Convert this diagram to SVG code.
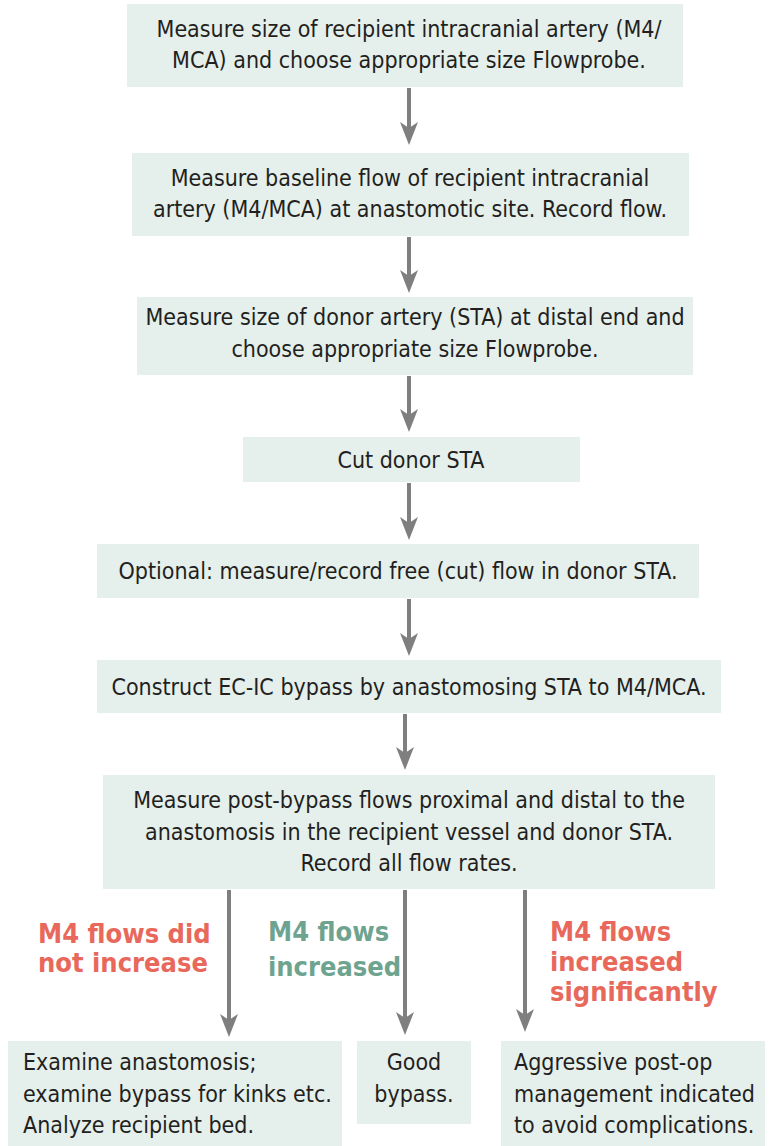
<svg xmlns="http://www.w3.org/2000/svg" width="770" height="1146" viewBox="0 0 770 1146">
<defs>
<style>
.box{fill:#e5efeb;}
.t{font-family:"Liberation Sans Narrow","DejaVu Sans Condensed",sans-serif;font-size:23px;fill:#231f20;}
.c{text-anchor:middle;}
.lab{font-family:"Liberation Sans Narrow","DejaVu Sans Condensed",sans-serif;font-size:27px;font-weight:bold;}
.red{fill:#e8695b;}
.grn{fill:#6ea48f;}
.ln{stroke:#7f7f7f;stroke-width:4;fill:none;marker-end:url(#ah);}
</style>
<marker id="ah" viewBox="0 0 23 18" refX="6" refY="9" markerWidth="23" markerHeight="18" markerUnits="userSpaceOnUse" orient="auto">
<path d="M0,0 L23,9 L0,18 L6,9 Z" fill="#7f7f7f"/>
</marker>
</defs>
<g id="connectors">
<line class="ln" x1="409" y1="88" x2="409" y2="128"/>
<line class="ln" x1="409" y1="237" x2="409" y2="276"/>
<line class="ln" x1="409" y1="376" x2="409" y2="415"/>
<line class="ln" x1="409" y1="483" x2="409" y2="523"/>
<line class="ln" x1="409" y1="599" x2="409" y2="639"/>
<line class="ln" x1="405" y1="714" x2="405" y2="753"/>
<line class="ln" x1="229" y1="890" x2="229" y2="1020"/>
<line class="ln" x1="405" y1="890" x2="405" y2="1018"/>
<line class="ln" x1="525" y1="890" x2="525" y2="1015"/>
</g>
<g id="n1"><rect class="box" x="127" y="4" width="556" height="83"/>
<text class="t c" x="409" y="37">Measure size of recipient intracranial artery (M4/</text>
<text class="t c" x="409" y="68">MCA) and choose appropriate size Flowprobe.</text></g>
<g id="n2"><rect class="box" x="132" y="153" width="557" height="83"/>
<text class="t c" x="410" y="186">Measure baseline flow of recipient intracranial</text>
<text class="t c" x="410" y="217">artery (M4/MCA) at anastomotic site. Record flow.</text></g>
<g id="n3"><rect class="box" x="137" y="297" width="556" height="78"/>
<text class="t c" x="415" y="325">Measure size of donor artery (STA) at distal end and</text>
<text class="t c" x="415" y="357">choose appropriate size Flowprobe.</text></g>
<g id="n4"><rect class="box" x="243" y="437" width="337" height="45"/>
<text class="t c" x="411" y="468">Cut donor STA</text></g>
<g id="n5"><rect class="box" x="97" y="544" width="602" height="54"/>
<text class="t c" x="398" y="579">Optional: measure/record free (cut) flow in donor STA.</text></g>
<g id="n6"><rect class="box" x="97" y="660" width="624" height="53"/>
<text class="t c" x="409" y="695">Construct EC-IC bypass by anastomosing STA to M4/MCA.</text></g>
<g id="n7"><rect class="box" x="103" y="775" width="612" height="114"/>
<text class="t c" x="409" y="808">Measure post-bypass flows proximal and distal to the</text>
<text class="t c" x="409" y="840">anastomosis in the recipient vessel and donor STA.</text>
<text class="t c" x="409" y="871">Record all flow rates.</text></g>
<g id="lab1"><text class="lab red" x="38" y="943">M4 flows did</text>
<text class="lab red" x="38" y="972">not increase</text></g>
<g id="lab2"><text class="lab grn" x="268" y="941">M4 flows</text>
<text class="lab grn" x="268" y="976">increased</text></g>
<g id="lab3"><text class="lab red" x="550" y="941">M4 flows</text>
<text class="lab red" x="550" y="971">increased</text>
<text class="lab red" x="550" y="1001">significantly</text></g>
<g id="n8"><rect class="box" x="8" y="1041" width="334" height="105"/>
<text class="t" x="23" y="1070">Examine anastomosis;</text>
<text class="t" x="23" y="1102">examine bypass for kinks etc.</text>
<text class="t" x="23" y="1133">Analyze recipient bed.</text></g>
<g id="n9"><rect class="box" x="357" y="1041" width="114" height="83"/>
<text class="t c" x="414" y="1070">Good</text>
<text class="t c" x="414" y="1102">bypass.</text></g>
<g id="n10"><rect class="box" x="501" y="1041" width="264" height="105"/>
<text class="t" x="514" y="1070">Aggressive post-op</text>
<text class="t" x="514" y="1102">management indicated</text>
<text class="t" x="514" y="1133">to avoid complications.</text></g>
</svg>
